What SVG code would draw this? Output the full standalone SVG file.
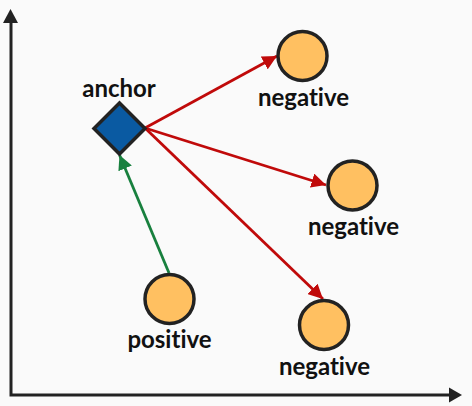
<svg xmlns="http://www.w3.org/2000/svg" width="472" height="406" viewBox="0 0 472 406">
<defs>
<style>
.axis{stroke:#222;stroke-width:3;fill:none}
.node{fill:#FFC061;stroke:#222;stroke-width:3.5}
.lbl{font-family:Lato,"Liberation Sans",sans-serif;font-weight:bold;font-size:24px;fill:#111;text-anchor:middle;font-variant-ligatures:none;font-feature-settings:"liga" 0,"dlig" 0,"clig" 0}
.neg{stroke:#C00A0A;stroke-width:2.8;fill:none}
.pos{stroke:#18803E;stroke-width:2.8;fill:none}
</style>
<marker id="ar" viewBox="0 0 10 10" refX="10" refY="5" markerWidth="5.2" markerHeight="5.2" markerUnits="strokeWidth" orient="auto"><path d="M0,0L10,5L0,10z" fill="#C00A0A"/></marker>
<marker id="ag" viewBox="0 0 10 10" refX="10" refY="5" markerWidth="5.2" markerHeight="5.2" markerUnits="strokeWidth" orient="auto"><path d="M0,0L10,5L0,10z" fill="#18803E"/></marker>
</defs>
<rect width="472" height="406" fill="#FAFAFA"/>
<g id="axes">
<path class="axis" d="M11,395V20M9.5,395H452"/>
<path d="M3,23L10.5,9L18,23z" fill="#222"/>
<path d="M449,387.5L462,395L449,402.5z" fill="#222"/>
</g>
<g id="connectors">
<line class="neg" x1="145" y1="128" x2="277" y2="56" marker-end="url(#ar)"/>
<line class="neg" x1="145" y1="128" x2="326" y2="185" marker-end="url(#ar)"/>
<line class="neg" x1="145" y1="128" x2="323" y2="299" marker-end="url(#ar)"/>
<line class="pos" x1="169" y1="273" x2="119.5" y2="155" marker-end="url(#ag)"/>
</g>
<g id="anchor">
<path d="M119.5,103L145,128.5L119.5,154L94,128.5z" fill="#0A5AA2" stroke="#222" stroke-width="3.5" stroke-linejoin="miter"/>
<text class="lbl" x="119" y="96.5">anchor</text>
</g>
<g id="negative1">
<circle class="node" cx="302.5" cy="56" r="24.5"/>
<text class="lbl" x="303.5" y="105.5">negative</text>
</g>
<g id="negative2">
<circle class="node" cx="352.5" cy="185.5" r="24.5"/>
<text class="lbl" x="353.5" y="234.5">negative</text>
</g>
<g id="negative3">
<circle class="node" cx="324" cy="325" r="24.5"/>
<text class="lbl" x="324.5" y="374.5">negative</text>
</g>
<g id="positive">
<circle class="node" cx="169.5" cy="299" r="24.5"/>
<text class="lbl" x="169.5" y="348">positive</text>
</g>
</svg>
